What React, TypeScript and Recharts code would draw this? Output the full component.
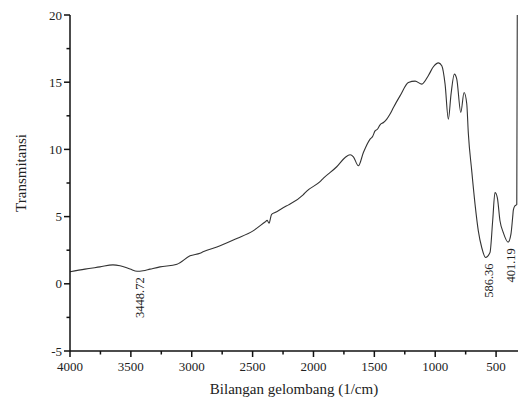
import React from 'react';
import { LineChart, Line, XAxis, YAxis, ReferenceDot } from 'recharts';

const wavenumbers = [
  4000, 3877, 3754, 3647, 3589, 3507, 3448.72, 3400, 3343, 3261, 3121, 3014, 2932, 2907,
  2767, 2630, 2496, 2398, 2380, 2365, 2345, 2316, 2220, 2192, 2085, 2055, 1946, 1918,
  1809, 1740, 1699, 1672, 1631, 1590, 1535, 1515, 1494, 1475, 1453, 1425, 1398, 1371,
  1343, 1288, 1220, 1165, 1110, 1056, 1015, 974, 946, 919, 892, 870, 843, 823, 790,
  763, 741, 728, 700, 673, 646, 618, 586.36, 550, 528, 509, 490, 468, 441, 401.19,
  378, 364, 358, 345, 330, 326,
];

const transmittance = [
  0.89, 1.09, 1.26, 1.41, 1.34, 1.1, 0.93, 0.97, 1.09, 1.26, 1.46, 2.08, 2.28, 2.38,
  2.83, 3.37, 3.94, 4.6, 4.72, 4.5, 5.15, 5.3, 5.8, 5.93, 6.62, 6.9, 7.6, 7.86,
  8.71, 9.4, 9.6, 9.45, 8.78, 9.77, 10.77, 10.95, 11.38, 11.5, 11.83, 12.0, 12.25, 12.63,
  13.12, 14.0, 14.98, 15.08, 14.86, 15.5, 16.15, 16.44, 16.22, 14.86, 12.25, 14.11, 15.6, 15.23, 12.75,
  14.23, 13.4, 11.2, 8.4, 5.93, 3.94, 2.7, 1.96, 2.33, 4.69, 6.79, 6.42, 4.69, 3.82, 3.1,
  3.7, 4.93, 5.5, 5.8, 5.9, 20,
];

const xTicks = [4000, 3750, 3500, 3250, 3000, 2750, 2500, 2250, 2000, 1750, 1500, 1250, 1000, 750, 500];
const yTicks = [-5, -2.5, 0, 2.5, 5, 7.5, 10, 12.5, 15, 17.5, 20];

const peakPositions = [3448.72, 586.36, 401.19];
const peakLabels = ['3448.72', '586.36', '401.19'];

const xTitle = 'Bilangan gelombang (1/cm)';
const yTitle = 'Transmitansi';

const FONT = '"Liberation Serif", "Times New Roman", serif';
const AXIS_COLOR = '#111';
const TEXT_COLOR = '#222';

const data = wavenumbers.map((w, i) => ({ w, t: transmittance[i] }));

const XTick = (props: any) => {
  const { x, y, payload } = props;
  const major = payload.value % 500 === 0;
  return (
    <g>
      <line x1={x} y1={y} x2={x} y2={y + (major ? 6 : 3.5)} stroke={AXIS_COLOR} strokeWidth={1.5} />
      {major && (
        <text x={x} y={y + 20} textAnchor="middle" fontSize={13} fill={TEXT_COLOR} fontFamily={FONT}>
          {payload.value}
        </text>
      )}
    </g>
  );
};

const YTick = (props: any) => {
  const { x, y, payload } = props;
  const major = payload.value % 5 === 0;
  return (
    <g>
      <line x1={x - (major ? 6 : 3.5)} y1={y} x2={x} y2={y} stroke={AXIS_COLOR} strokeWidth={1.5} />
      {major && (
        <text x={x - 8} y={y + 4.5} textAnchor="end" fontSize={13} fill={TEXT_COLOR} fontFamily={FONT}>
          {payload.value}
        </text>
      )}
    </g>
  );
};

const XTitle = (props: any) => {
  const vb = props.viewBox || {};
  return (
    <text x={vb.x + vb.width / 2} y={vb.y + 43} textAnchor="middle" fontSize={15} fill={TEXT_COLOR} fontFamily={FONT}>
      {xTitle}
    </text>
  );
};

const YTitle = (props: any) => {
  const vb = props.viewBox || {};
  const cx = 21;
  const cy = vb.y + vb.height / 2 - 10;
  return (
    <text
      x={cx}
      y={cy}
      textAnchor="middle"
      dominantBaseline="central"
      transform={`rotate(-90 ${cx} ${cy})`}
      fontSize={15}
      fill={TEXT_COLOR}
      fontFamily={FONT}
    >
      {yTitle}
    </text>
  );
};

const makePeakLabel = (text: string) => (props: any) => {
  const vb = props.viewBox || {};
  const lx = vb.x + 3;
  const ly = vb.y + 6;
  return (
    <text
      x={lx}
      y={ly}
      textAnchor="end"
      dominantBaseline="central"
      transform={`rotate(-90 ${lx} ${ly})`}
      fontSize={12.5}
      fill={TEXT_COLOR}
      fontFamily={FONT}
    >
      {text}
    </text>
  );
};

export default function App() {
  return (
    <div style={{ position: 'absolute', left: 0, top: 0, width: 518, height: 402, background: '#fff' }}>
      <LineChart width={518} height={402} data={data} margin={{ top: 15, right: 0, bottom: 0, left: 0 }}>
        <XAxis
          dataKey="w"
          type="number"
          domain={[320, 4000]}
          reversed
          allowDataOverflow
          ticks={xTicks}
          interval={0}
          tickSize={0}
          tickMargin={0}
          tickLine={false}
          tick={<XTick />}
          height={51}
          axisLine={{ stroke: AXIS_COLOR, strokeWidth: 1.5 }}
          label={<XTitle />}
        />
        <YAxis
          type="number"
          domain={[-5, 20]}
          allowDataOverflow
          ticks={yTicks}
          interval={0}
          tickSize={0}
          tickMargin={0}
          tickLine={false}
          tick={<YTick />}
          width={70}
          axisLine={{ stroke: AXIS_COLOR, strokeWidth: 1.5 }}
          label={<YTitle />}
        />
        <Line
          type="monotone"
          dataKey="t"
          stroke="#333"
          strokeWidth={1.1}
          dot={false}
          activeDot={false}
          isAnimationActive={false}
        />
        {peakPositions.map((p, i) => (
          <ReferenceDot
            key={p}
            x={p}
            y={transmittance[wavenumbers.indexOf(p)]}
            r={0}
            fill="none"
            stroke="none"
            label={makePeakLabel(peakLabels[i])}
          />
        ))}
      </LineChart>
    </div>
  );
}
